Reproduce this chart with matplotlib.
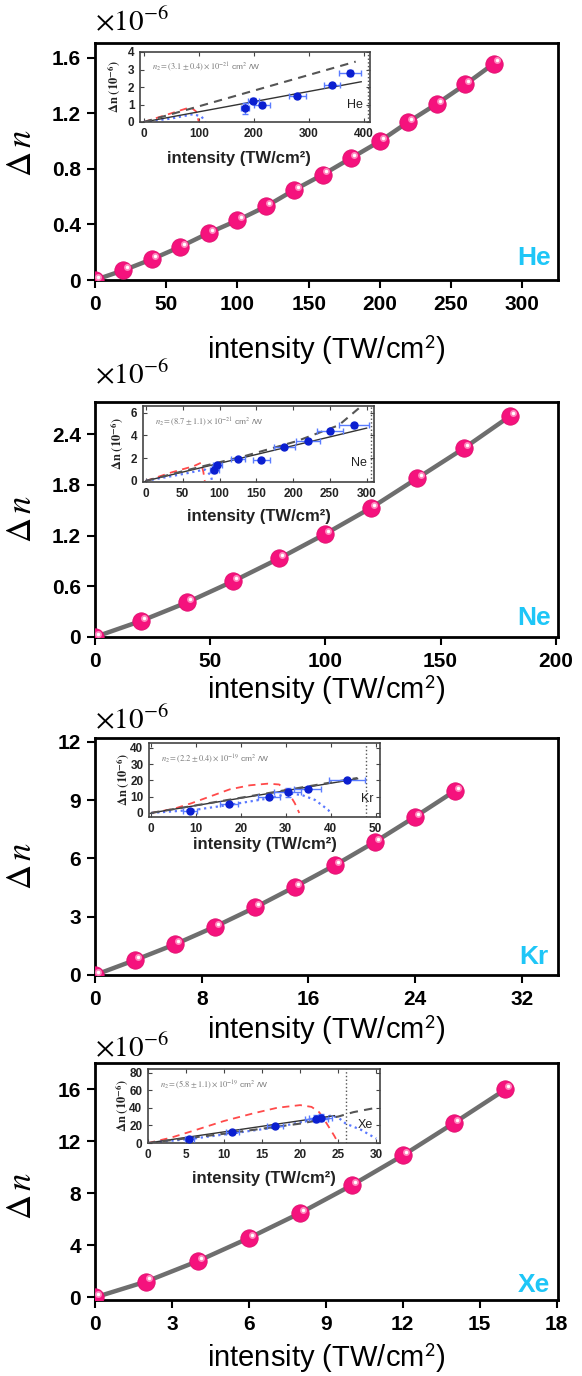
import matplotlib
matplotlib.use("Agg")
import matplotlib.pyplot as plt
from matplotlib.transforms import offset_copy

plt.rcParams['font.family'] = ['Liberation Sans', 'DejaVu Sans']
plt.rcParams['mathtext.fontset'] = 'stix'

# ---- main panels: intensity (TW/cm2) vs delta n (x1e-6)
he_x = [0, 20, 40, 60, 80, 100, 120, 140, 160, 180, 200, 220, 240, 260, 280]
he_y = [0.0, 0.07, 0.15, 0.24, 0.34, 0.43, 0.53, 0.65, 0.76, 0.88, 1.00, 1.14, 1.27, 1.41, 1.56]
ne_x = [0, 20, 40, 60, 80, 100, 120, 140, 160, 180]
ne_y = [0.0, 0.19, 0.41, 0.66, 0.93, 1.22, 1.53, 1.88, 2.23, 2.61]
kr_x = [0, 3, 6, 9, 12, 15, 18, 21, 24, 27]
kr_y = [0.0, 0.77, 1.58, 2.49, 3.48, 4.55, 5.66, 6.86, 8.15, 9.49]
xe_x = [0, 2, 4, 6, 8, 10, 12, 14, 16]
xe_y = [0.0, 1.22, 2.78, 4.56, 6.48, 8.6, 10.9, 13.4, 15.97]

he_xticks = [0, 50, 100, 150, 200, 250, 300]
he_yticks = [0, 0.4, 0.8, 1.2, 1.6]
he_ylabels = ['0', '0.4', '0.8', '1.2', '1.6']
ne_xticks = [0, 50, 100, 150, 200]
ne_yticks = [0, 0.6, 1.2, 1.8, 2.4]
ne_ylabels = ['0', '0.6', '1.2', '1.8', '2.4']
kr_xticks = [0, 8, 16, 24, 32]
kr_yticks = [0, 3, 6, 9, 12]
kr_ylabels = ['0', '3', '6', '9', '12']
xe_xticks = [0, 3, 6, 9, 12, 15, 18]
xe_yticks = [0, 4, 8, 12, 16]
xe_ylabels = ['0', '4', '8', '12', '16']

# ---- insets (measured points with error bars, fit, model curves)
he_in_x = [184, 199, 215, 279, 342, 375]
he_in_y = [0.78, 1.22, 0.98, 1.47, 2.12, 2.8]
he_in_xerr = [8, 10, 15, 15, 15, 20]
he_in_yerr = [0.3, 0.15, 0.15, 0.12, 0.1, 0.15]
he_fit_x = [0, 395]
he_fit_y = [0, 2.3]
he_dash_x = [0, 385]
he_dash_y = [0, 3.45]
he_red_x = [0, 30, 60, 85, 95, 100]
he_red_y = [0, 0.3, 0.6, 0.85, 0.6, 0.0]
he_blue_x = [0, 50, 90, 105, 112]
he_blue_y = [0, 0.2, 0.45, 0.3, 0.0]
he_n2 = r'$n_2=(3.1\pm0.4)\times10^{-21}$ cm$^2$ /W'

ne_in_x = [93, 97, 125, 157, 188, 220, 250, 283]
ne_in_y = [1.0, 1.4, 1.95, 1.85, 2.95, 3.5, 4.4, 4.9]
ne_in_xerr = [6, 6, 10, 12, 14, 16, 18, 20]
ne_in_yerr = [0.3, 0.2, 0.15, 0.15, 0.15, 0.15, 0.2, 0.2]
ne_fit_x = [0, 300]
ne_fit_y = [0, 4.65]
ne_dash_x = [0, 50, 135, 205, 262, 293]
ne_dash_y = [0, 0.85, 2.2, 3.5, 4.9, 6.6]
ne_red_x = [0, 35, 65, 75, 78, 80]
ne_red_y = [0, 0.75, 1.3, 1.6, 0.8, 0.0]
ne_blue_x = [0, 50, 80, 88, 90]
ne_blue_y = [0, 0.6, 1.0, 0.5, 0.0]
ne_n2 = r'$n_2=(8.7\pm1.1)\times10^{-21}$ cm$^2$ /W'

kr_in_x = [8.6, 17.3, 26.3, 30.4, 34.9, 43.6]
kr_in_y = [1.4, 5.4, 10.0, 12.6, 14.6, 20.0]
kr_in_xerr = [1.5, 2.0, 2.5, 3.0, 3.0, 4.0]
kr_in_yerr = [1.0, 1.0, 1.0, 3.0, 1.0, 1.0]
kr_fit_x = [0, 46]
kr_fit_y = [0, 21]
kr_dash_x = [0, 46]
kr_dash_y = [0, 21.5]
kr_red_x = [0, 5, 9, 13, 17.5, 22, 26, 28.5, 30.5, 32, 33]
kr_red_y = [0, 2.5, 6, 10, 14.5, 17, 18, 17.5, 13, 6, 0]
kr_blue_x = [0, 10, 17.5, 26.3, 30.7, 33.6, 36.5, 39.4, 40]
kr_blue_y = [0, 2, 5, 9, 12, 11, 8, 2, 0]
kr_n2 = r'$n_2=(2.2\pm0.4)\times10^{-19}$ cm$^2$ /W'

xe_in_x = [5.4, 11.1, 16.7, 22.1, 22.7]
xe_in_y = [4.9, 12.4, 19.1, 27.3, 28.9]
xe_in_xerr = [0.6, 0.8, 1.0, 1.5, 1.5]
xe_in_yerr = [2, 2, 2, 4, 4]
xe_fit_x = [0, 24.5]
xe_fit_y = [0, 31]
xe_dash_x = [0, 10, 20, 25, 27, 30]
xe_dash_y = [0, 10.5, 22, 30, 35, 40]
xe_red_x = [0, 3, 6, 10, 14, 17, 20, 21.5, 22.5, 23.5, 24.5, 25]
xe_red_y = [0, 6, 14, 25, 34, 40, 43, 41, 35, 22, 8, 0]
xe_blue_x = [0, 6, 12, 17, 22, 24, 25, 26, 28, 30]
xe_blue_y = [0, 5, 12, 18, 27, 31, 29, 22, 15, 5]
xe_n2 = r'$n_2=(5.8\pm1.1)\times10^{-19}$ cm$^2$ /W'

W, H = 582, 1376
fig = plt.figure(figsize=(W / 100, H / 100), dpi=100)


def box(l, t, r, b):
    return [l / W, 1 - b / H, (r - l) / W, (b - t) / H]


panels = [
    dict(name='He', x=he_x, y=he_y, xt=he_xticks, yt=he_yticks, yl=he_ylabels,
         xlim=(0, 325), ylim=(0, 1.708), ax=(95, 43, 558, 280), x10=21, xlab=70, dn=0.536,
         ins=(140, 52, 370, 122), ix=he_in_x, iy=he_in_y, ixe=he_in_xerr, iye=he_in_yerr,
         fx=he_fit_x, fy=he_fit_y, dx=he_dash_x, dy=he_dash_y, rx=he_red_x, ry=he_red_y,
         bx=he_blue_x, by=he_blue_y, n2=he_n2, ixlim=(-7, 411), iylim=(0, 4),
         ixt=[0, 100, 200, 300, 400], iyt=[0, 1, 2, 3, 4], vline=408, ilab=(0.43, -0.42)),
    dict(name='Ne', x=ne_x, y=ne_y, xt=ne_xticks, yt=ne_yticks, yl=ne_ylabels,
         xlim=(0, 201), ylim=(0, 2.78), ax=(95, 402, 558, 637), x10=27, xlab=53, dn=0.5,
         ins=(143, 406, 374, 482), ix=ne_in_x, iy=ne_in_y, ixe=ne_in_xerr, iye=ne_in_yerr,
         fx=ne_fit_x, fy=ne_fit_y, dx=ne_dash_x, dy=ne_dash_y, rx=ne_red_x, ry=ne_red_y,
         bx=ne_blue_x, by=ne_blue_y, n2=ne_n2, ixlim=(-4, 310), iylim=(-0.1, 6.6),
         ixt=[0, 50, 100, 150, 200, 250, 300], iyt=[0, 2, 4, 6], vline=306, ilab=(0.5, -0.35)),
    dict(name='Kr', x=kr_x, y=kr_y, xt=kr_xticks, yt=kr_yticks, yl=kr_ylabels,
         xlim=(0, 34.7), ylim=(0, 12.2), ax=(95, 738, 558, 975), x10=18, xlab=55, dn=0.46,
         ins=(149, 743, 380, 817), ix=kr_in_x, iy=kr_in_y, ixe=kr_in_xerr, iye=kr_in_yerr,
         fx=kr_fit_x, fy=kr_fit_y, dx=kr_dash_x, dy=kr_dash_y, rx=kr_red_x, ry=kr_red_y,
         bx=kr_blue_x, by=kr_blue_y, n2=kr_n2, ixlim=(-0.5, 51), iylim=(-2.5, 43),
         ixt=[0, 10, 20, 30, 40, 50], iyt=[0, 10, 20, 30, 40], vline=47.8, ilab=(0.5, -0.27)),
    dict(name='Xe', x=xe_x, y=xe_y, xt=xe_xticks, yt=xe_yticks, yl=xe_ylabels,
         xlim=(0, 18.05), ylim=(-0.2, 18.0), ax=(95, 1063, 558, 1300), x10=15, xlab=58, dn=0.44,
         ins=(148, 1069, 380, 1143), ix=xe_in_x, iy=xe_in_y, ixe=xe_in_xerr, iye=xe_in_yerr,
         fx=xe_fit_x, fy=xe_fit_y, dx=xe_dash_x, dy=xe_dash_y, rx=xe_red_x, ry=xe_red_y,
         bx=xe_blue_x, by=xe_blue_y, n2=xe_n2, ixlim=(0, 30.5), iylim=(0, 84),
         ixt=[0, 5, 10, 15, 20, 25, 30], iyt=[0, 20, 40, 60, 80], vline=26, ilab=(0.5, -0.38)),
]

for p in panels:
    ax = fig.add_axes(box(*p['ax']))
    ax.plot(p['x'], p['y'], '-', color='#6e6e6e', lw=3.2, zorder=2)
    ax.plot(p['x'], p['y'], 'o', ms=12.5, color='#f5127d', mec='#e0106f', mew=0.6, zorder=3)
    hl = offset_copy(ax.transData, fig=fig, x=2.2, y=2.2, units='points')
    ax.plot(p['x'], p['y'], 'o', ms=5, color='#ff86bd', mec='none', transform=hl, zorder=4)
    ax.plot(p['x'], p['y'], 'o', ms=2.5, color='white', mec='none', transform=hl, zorder=5)
    ax.set_xlim(*p['xlim'])
    ax.set_ylim(*p['ylim'])
    ax.set_xticks(p['xt'])
    ax.set_xticklabels([str(v) for v in p['xt']])
    ax.set_yticks(p['yt'])
    ax.set_yticklabels(p['yl'])
    ax.tick_params(direction='out', length=6, width=1.5, labelsize=15, pad=4)
    ax.tick_params(axis='x', pad=5)
    for lab in ax.get_xticklabels() + ax.get_yticklabels():
        lab.set_fontweight('bold')
    for s in ax.spines.values():
        s.set_linewidth(2)
    ax.text(0.948, {'He': 0.093, 'Ne': 0.08, 'Kr': 0.076, 'Xe': 0.063}[p['name']], p['name'],
            transform=ax.transAxes, ha='center', va='center', color='#1ec6f7',
            fontsize=19, fontweight='bold')
    ax.annotate(r'$\times10^{\mathrm{-6}}$', xy=(0, 1), xycoords='axes fraction',
                xytext=(0, p['x10']), textcoords='offset pixels',
                ha='left', va='center', fontsize=21)
    ax.annotate('intensity (TW/cm$^{\\mathsf{2}}$)', xy=(0.5, 0), xycoords='axes fraction',
                xytext=(0, -p['xlab']), textcoords='offset pixels',
                ha='center', va='center', fontsize=21)
    ax.text(-0.158, p['dn'], r'$\Delta\,n$', transform=ax.transAxes, rotation=90,
            ha='center', va='center', fontsize=25)

    # inset
    ia = fig.add_axes(box(*p['ins']))
    ia.errorbar(p['ix'], p['iy'], xerr=p['ixe'], yerr=p['iye'], fmt='o', ms=5,
                color='#0b1fd0', ecolor='#5a7cff', elinewidth=1, capsize=2, zorder=5)
    ia.plot(p['fx'], p['fy'], '-', color='#333333', lw=1.0, zorder=3)
    ia.plot(p['dx'], p['dy'], '--', color='#555555', lw=1.5, dashes=(4, 3), zorder=3)
    ia.plot(p['rx'], p['ry'], '--', color='#ff4a4a', lw=1.3, dashes=(4, 3), zorder=2)
    ia.plot(p['bx'], p['by'], ':', color='#5a78ff', lw=1.6, zorder=2)
    ia.axvline(p['vline'], color='#555555', lw=1, ls=':')
    ia.set_xlim(*p['ixlim'])
    ia.set_ylim(*p['iylim'])
    ia.set_xticks(p['ixt'])
    ia.set_yticks(p['iyt'])
    ia.tick_params(direction='in', length=3, width=0.8, labelsize=8.5, pad=4,
                   top=True, right=True, colors='#444444', labelcolor='#222222')
    for lab in ia.get_xticklabels() + ia.get_yticklabels():
        lab.set_fontweight('bold')
    for s in ia.spines.values():
        s.set_linewidth(1.2)
        s.set_color('#444444')
    ia.text(0.05, 0.78, p['n2'], transform=ia.transAxes, fontsize=6, color='#777777',
            ha='left', va='center')
    ia.text(0.97, 0.25, p['name'], transform=ia.transAxes, fontsize=9, ha='right',
            va='center', color='#222222')
    ia.set_ylabel(r'$\mathbf{\Delta n\ (10^{-6})}$', fontsize=9, color='#222222')
    ia.yaxis.set_label_coords(-0.075, 0.5)
    ia.set_xlabel('intensity (TW/cm²)', fontsize=12, fontweight='bold', color='#222222')
    ia.xaxis.set_label_coords(*p['ilab'])

fig.savefig('out.png', dpi=100)
